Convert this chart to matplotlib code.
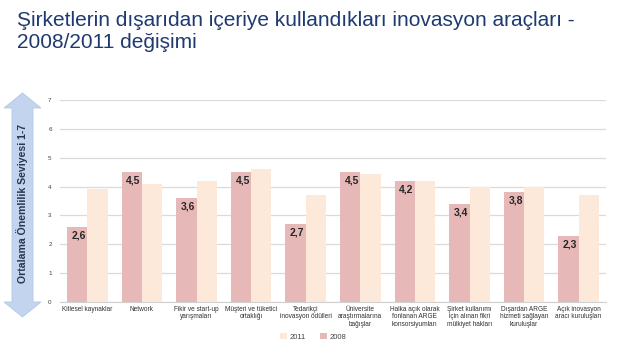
import matplotlib
matplotlib.use("Agg")
import matplotlib.pyplot as plt
from matplotlib.patches import Polygon
import numpy as np

plt.rcParams['font.family'] = ['Liberation Sans', 'DejaVu Sans']

# veriler
kategoriler = ["Kitlesel kaynaklar", "Network", "Fikir ve start-up\nyarışmaları",
               "Müşteri ve tüketici\nortaklığı", "Tedarikçi\ninovasyon ödülleri",
               "Üniversite\naraştırmalarına\nbağışlar",
               "Halka açık olarak\nfonlanan ARGE\nkonsorsiyumları",
               "Şirket kullanımı\niçin alınan fikri\nmülkiyet hakları",
               "Dışardan ARGE\nhizmeti sağlayan\nkuruluşlar",
               "Açık inovasyon\naracı kuruluşları"]
v2008 = [2.6, 4.5, 3.6, 4.5, 2.7, 4.5, 4.2, 3.4, 3.8, 2.3]
v2011 = [3.9, 4.1, 4.2, 4.6, 3.7, 4.45, 4.2, 4.0, 4.0, 3.7]
rotulos2008 = ["2,6", "4,5", "3,6", "4,5", "2,7", "4,5", "4,2", "3,4", "3,8", "2,3"]

W, H = 620, 355
fig = plt.figure(figsize=(6.2, 3.55), dpi=100)
fig.patch.set_facecolor('white')
ax = fig.add_axes([60 / W, 1 - 302 / H, 546 / W, 202 / H])

cor08 = '#E6B9B8'
cor11 = '#FDE9DA'
x = np.arange(len(kategoriler))
lw = 0.37
b08 = ax.bar(x - lw / 2, v2008, lw, color=cor08, label='2008', zorder=2)
b11 = ax.bar(x + lw / 2, v2011, lw, color=cor11, label='2011', zorder=2)

for i in range(len(x)):
    ax.text(x[i] - lw / 2 + 0.03, v2008[i] - 0.3, rotulos2008[i], ha='center',
            va='center', fontsize=7.5, fontweight='bold', color='#262626', zorder=3)

ax.set_ylim(0, 7)
ax.set_xlim(-0.5, len(x) - 0.5)
ax.set_yticks(range(0, 8))
ax.yaxis.grid(True, color='#DADADA', linewidth=0.9, zorder=0)
ax.set_axisbelow(True)
for s in ['top', 'right', 'left']:
    ax.spines[s].set_visible(False)
ax.spines['bottom'].set_color('#D0D0D0')
ax.tick_params(axis='y', length=0, labelsize=4.5, labelcolor='#404040', pad=6)
ax.tick_params(axis='x', length=0, labelsize=4.7, labelcolor='#303030', pad=3)
ax.set_xticks(x)
ax.set_xticklabels(kategoriler, linespacing=1.05)

# titulo
fig.text(17 / W, 1 - 11 / H,
         "Şirketlerin dışarıdan içeriye kullandıkları inovasyon araçları -\n2008/2011 değişimi",
         ha='left', va='top', fontsize=15, color='#1F3A70', linespacing=1.2)

# seta dupla
def px(a, b):
    return (a / W, 1 - b / H)

pts = [px(22.5, 93), px(41, 108), px(33, 108), px(33, 302), px(41, 302),
       px(22.5, 317), px(4, 302), px(12, 302), px(12, 108), px(4, 108)]
fig.add_artist(Polygon(pts, closed=True, facecolor='#C3D5EE', edgecolor='#B3C8E6',
                       linewidth=0.6, transform=fig.transFigure))
fig.text(22.5 / W, 1 - 203 / H, "Ortalama Önemlilik Seviyesi 1-7", rotation=90,
         ha='center', va='center', fontsize=7.6, fontweight='bold', color='#2A3550')

# legenda
fig.legend(handles=[b11, b08], labels=['2011', '2008'], loc='center',
           bbox_to_anchor=(313 / W, 1 - 337 / H), ncol=2, frameon=False,
           fontsize=5.5, handlelength=0.9, handleheight=0.9, columnspacing=1.8,
           handletextpad=0.4, labelcolor='#404040')

fig.savefig('out.png', dpi=100)
